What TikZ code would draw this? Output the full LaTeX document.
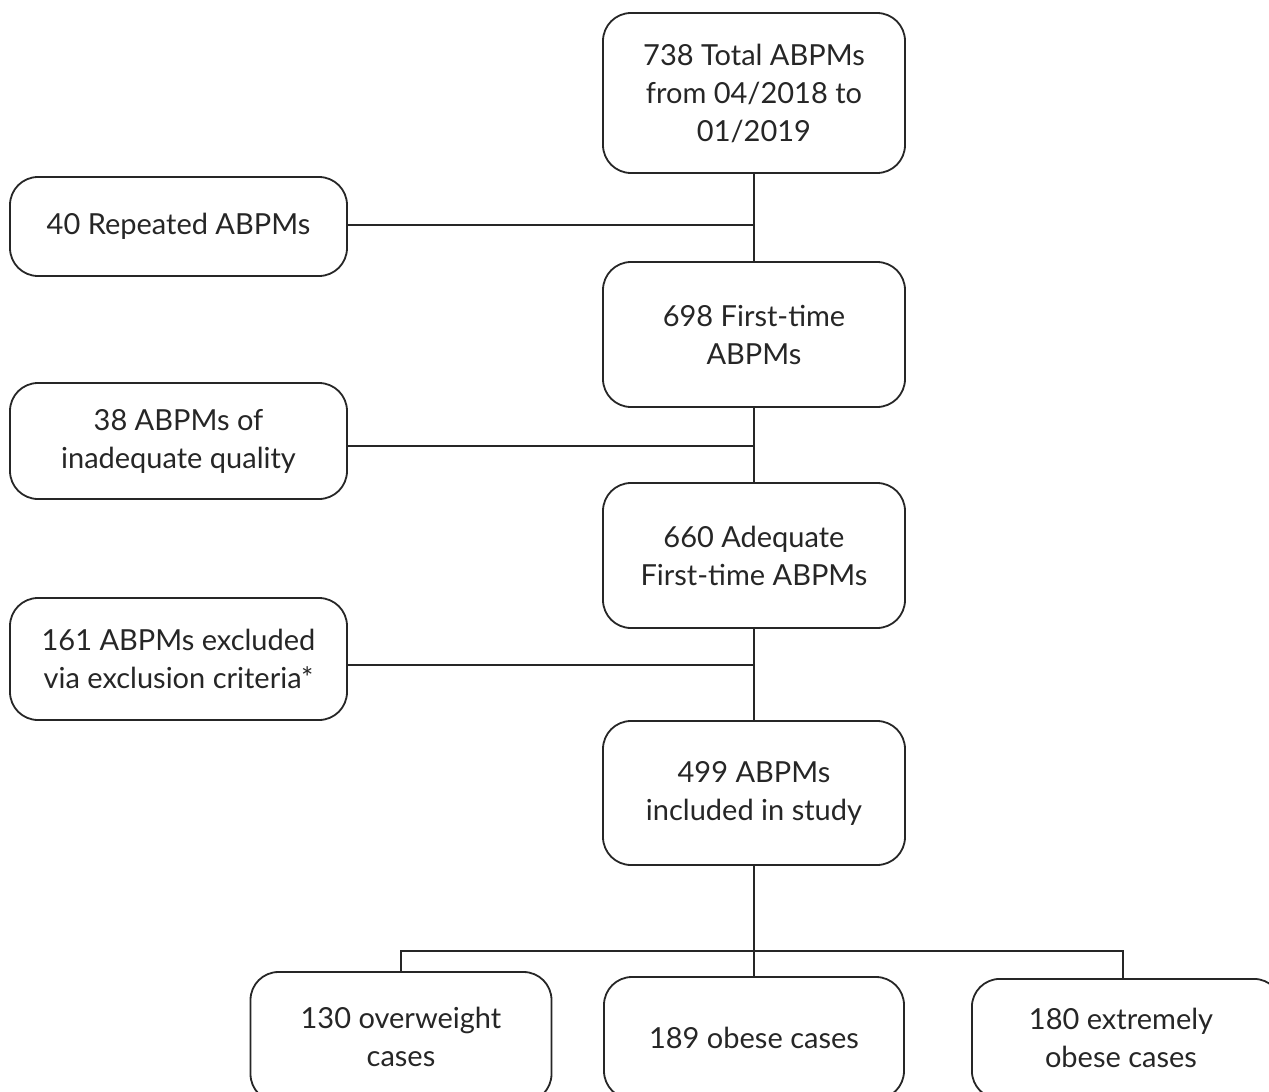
\documentclass[tikz,border=0pt]{standalone}
\usepackage{fontspec}
\setmainfont{Lato}
\begin{document}
\begin{tikzpicture}[x=1pt,y=-1pt,
  box/.style={draw=black!85, line width=1.8pt, rounded corners=28pt, align=center, text=black!85,
    font=\fontsize{29}{38}\selectfont, inner sep=0pt},
  link/.style={draw=black!85, line width=1.8pt}]
\useasboundingbox (0,0) rectangle (1269,1092);
\clip (0,0) rectangle (1269,1092);
% main column
\node[box, minimum width=302pt, minimum height=160pt] (b1) at (754,93) {738 Total ABPMs\\from 04/2018 to\\01/2019};
\node[box, minimum width=302pt, minimum height=145pt] (b2) at (754,334.5) {698 First-time\\ABPMs};
\node[box, minimum width=302pt, minimum height=145pt] (b3) at (754,555.5) {660 Adequate\\First-time ABPMs};
\node[box, minimum width=302pt, minimum height=144pt] (b4) at (754,793) {499 ABPMs\\included in study};
% left column
\node[box, minimum width=337pt, minimum height=99pt] (l1) at (178.5,226.5) {40 Repeated ABPMs};
\node[box, minimum width=337pt, minimum height=116pt] (l2) at (178.5,441) {38 ABPMs of\\inadequate quality};
\node[box, minimum width=337pt, minimum height=122pt] (l3) at (178.5,659) {161 ABPMs excluded\\via exclusion criteria*};
% bottom row
\node[box, minimum width=301pt, minimum height=130pt] (c1) at (401,1037) {130 overweight\\cases};
\node[box, minimum width=300pt, minimum height=122pt] (c2) at (754,1038) {189 obese cases};
\node[box, minimum width=310pt, minimum height=120pt, anchor=north west] (c3) at (971,978) {};
\node[align=center, text=black!85, font=\fontsize{29}{38}\selectfont] (c3t) at (1121,1038) {180 extremely\\obese cases};
% connectors
\draw[link] (b1.south) -- (b2.north);
\draw[link] (b2.south) -- (b3.north);
\draw[link] (b3.south) -- (b4.north);
\coordinate (j1) at (754,225);
\coordinate (j2) at (754,446);
\coordinate (j3) at (754,665);
\draw[link] (l1.east |- j1) -- (j1);
\draw[link] (l2.east |- j2) -- (j2);
\draw[link] (l3.east |- j3) -- (j3);
\coordinate (bar) at (754,951);
\coordinate (c3top) at (1123,978);
\draw[link] (b4.south) -- (c2.north);
\draw[link] (c1.north) -- (c1.north |- bar) -- (c3top |- bar) -- (c3top);
\end{tikzpicture}
\end{document}
